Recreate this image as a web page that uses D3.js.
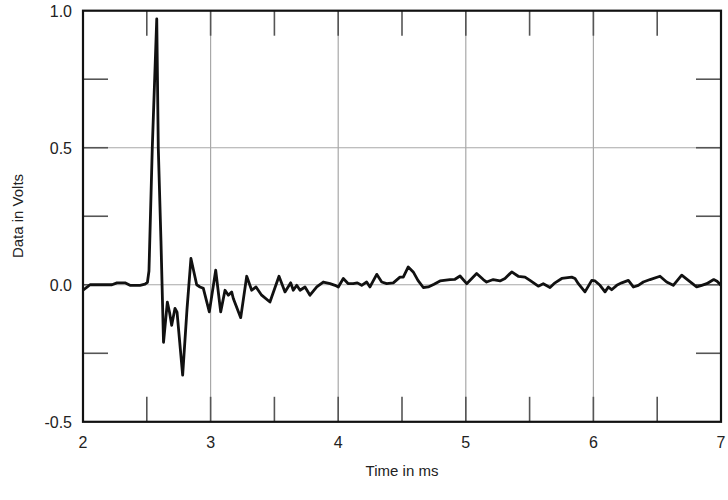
<!DOCTYPE html>
<html>
<head>
<meta charset="utf-8">
<script src="https://cdn.jsdelivr.net/npm/d3@7"></script>
<style>
  html, body { margin: 0; padding: 0; background: #fff; }
  svg { display: block; }
  text { font-family: "Liberation Sans", Arial, Helvetica, sans-serif; fill: #222; }
</style>
</head>
<body>
<svg id="chart" width="728" height="500"></svg>
<script>
// ---- Data ----
const timeMs = [
  2.000, 2.031, 2.055, 2.133, 2.227, 2.266, 2.329, 2.368, 2.447, 2.486,
  2.505, 2.517, 2.543, 2.578, 2.590, 2.611, 2.631, 2.661, 2.678, 2.695,
  2.721, 2.737, 2.781, 2.815, 2.846, 2.891, 2.917, 2.943, 2.990, 3.040,
  3.079, 3.113, 3.139, 3.165, 3.178, 3.236, 3.283, 3.322, 3.356, 3.400,
  3.465, 3.536, 3.583, 3.628, 3.648, 3.675, 3.701, 3.740, 3.779, 3.832,
  3.883, 3.936, 3.975, 4.001, 4.040, 4.079, 4.118, 4.150, 4.184, 4.223,
  4.249, 4.302, 4.341, 4.380, 4.432, 4.484, 4.510, 4.549, 4.588, 4.625,
  4.667, 4.706, 4.751, 4.798, 4.876, 4.915, 4.955, 5.007, 5.085, 5.137,
  5.163, 5.215, 5.268, 5.307, 5.360, 5.411, 5.464, 5.503, 5.568, 5.607,
  5.660, 5.699, 5.752, 5.830, 5.856, 5.882, 5.934, 5.987, 6.013, 6.052,
  6.091, 6.117, 6.143, 6.183, 6.222, 6.274, 6.313, 6.352, 6.391, 6.444,
  6.522, 6.574, 6.626, 6.692, 6.744, 6.809, 6.849, 6.888, 6.943, 6.969,
  7.000
];
const volts = [
  -0.020, -0.009, 0.000, 0.000, 0.000, 0.007, 0.007, -0.002, -0.002, 0.002,
  0.009, 0.050, 0.500, 0.970, 0.500, 0.160, -0.210, -0.063, -0.100, -0.148,
  -0.086, -0.100, -0.330, -0.090, 0.096, 0.000, -0.008, -0.013, -0.099, 0.053,
  -0.099, -0.020, -0.038, -0.026, -0.050, -0.120, 0.031, -0.020, -0.008, -0.038,
  -0.063, 0.031, -0.026, 0.007, -0.020, -0.002, -0.020, -0.008, -0.038, -0.008,
  0.010, 0.004, -0.002, -0.008, 0.023, 0.004, 0.004, 0.007, -0.002, 0.010,
  -0.008, 0.038, 0.010, 0.004, 0.007, 0.028, 0.028, 0.065, 0.047, 0.016,
  -0.010, -0.008, 0.002, 0.014, 0.019, 0.020, 0.032, 0.004, 0.041, 0.019,
  0.010, 0.019, 0.014, 0.023, 0.047, 0.031, 0.028, 0.016, -0.005, 0.004,
  -0.010, 0.007, 0.023, 0.028, 0.023, 0.004, -0.026, 0.016, 0.014, -0.002,
  -0.026, -0.008, -0.018, -0.002, 0.007, 0.016, -0.008, -0.002, 0.010, 0.019,
  0.031, 0.010, -0.002, 0.035, 0.016, -0.008, -0.002, 0.004, 0.019, 0.013,
  -0.002
];
const xMajorTicks = [2, 3, 4, 5, 6, 7];
const xMinorTicks = [2.5, 3.5, 4.5, 5.5, 6.5];
const yMajorTicks = [-0.5, 0.0, 0.5, 1.0];
const yTickLabels = ["-0.5", "0.0", "0.5", "1.0"];
const yMinorTicks = [-0.25, 0.25, 0.75];
const xTitle = "Time in ms";
const yTitle = "Data in Volts";

// ---- Layout ----
const svg = d3.select("#chart");
const L = 83, R = 721, T = 10.7, B = 421.8;
const x = d3.scaleLinear().domain([2, 7]).range([L, R]);
const y = d3.scaleLinear().domain([-0.5, 1.0]).range([B, T]);
const tickLen = 25;
const gridColor = "#a8a8a8";
const tickColor = "#555";

// grid lines
svg.append("g").selectAll("line").data(xMajorTicks.filter(d => d > 2 && d < 7)).join("line")
  .attr("x1", d => x(d)).attr("x2", d => x(d)).attr("y1", T).attr("y2", B)
  .attr("stroke", gridColor).attr("stroke-width", 1.2);
svg.append("g").selectAll("line").data(yMajorTicks.filter(d => d > -0.5 && d < 1.0)).join("line")
  .attr("x1", L).attr("x2", R).attr("y1", d => y(d)).attr("y2", d => y(d))
  .attr("stroke", gridColor).attr("stroke-width", 1.2);

// inner ticks (major + minor), from all four sides
const xAllTicks = xMajorTicks.filter(d => d > 2 && d < 7).concat(xMinorTicks);
const yAllTicks = yMajorTicks.filter(d => d > -0.5 && d < 1.0).concat(yMinorTicks);
const tk = svg.append("g").attr("stroke", tickColor).attr("stroke-width", 1.6);
xAllTicks.forEach(d => {
  tk.append("line").attr("x1", x(d)).attr("x2", x(d)).attr("y1", T).attr("y2", T + tickLen);
  tk.append("line").attr("x1", x(d)).attr("x2", x(d)).attr("y1", B).attr("y2", B - tickLen);
});
yAllTicks.forEach(d => {
  tk.append("line").attr("x1", L).attr("x2", L + tickLen).attr("y1", y(d)).attr("y2", y(d));
  tk.append("line").attr("x1", R).attr("x2", R - tickLen).attr("y1", y(d)).attr("y2", y(d));
});

// data line
const pts = timeMs.map((t, i) => [t, volts[i]]);
svg.append("path")
  .datum(pts)
  .attr("fill", "none")
  .attr("stroke", "#111")
  .attr("stroke-width", 2.8)
  .attr("stroke-linejoin", "round")
  .attr("d", d3.line().x(d => x(d[0])).y(d => y(d[1])));

// frame
svg.append("rect")
  .attr("x", L).attr("y", T).attr("width", R - L).attr("height", B - T)
  .attr("fill", "none").attr("stroke", "#111").attr("stroke-width", 2.2);

// tick labels
svg.append("g").selectAll("text").data(xMajorTicks).join("text")
  .attr("x", d => x(d)).attr("y", 448)
  .attr("text-anchor", "middle")
  .attr("font-size", 16)
  .text(d => String(d));
svg.append("g").selectAll("text").data(yMajorTicks).join("text")
  .attr("x", 72).attr("y", d => y(d) + 6)
  .attr("text-anchor", "end")
  .attr("font-size", 16)
  .text((d, i) => yTickLabels[i]);

// axis titles
svg.append("text")
  .attr("x", 402).attr("y", 476)
  .attr("text-anchor", "middle")
  .attr("font-size", 15)
  .text(xTitle);
svg.append("text")
  .attr("transform", "translate(23,216) rotate(-90)")
  .attr("text-anchor", "middle")
  .attr("font-size", 15)
  .text(yTitle);
</script>
</body>
</html>
